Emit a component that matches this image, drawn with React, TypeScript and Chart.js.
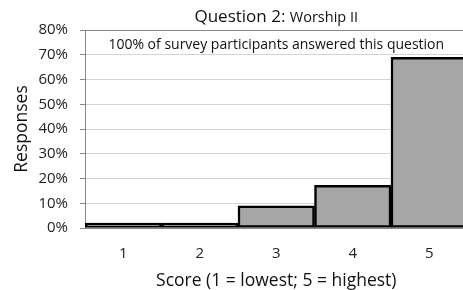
import React, { useEffect, useRef } from "react";
import { Chart, registerables } from "chart.js";

Chart.register(...registerables);

const categories = ["1", "2", "3", "4", "5"];
const responses = [2, 2, 9, 17.2, 69];
const yTicks = [0, 10, 20, 30, 40, 50, 60, 70, 80];
const titleMain = "Question 2: ";
const titleSub = "Worship II";
const note = "100% of survey participants answered this question";
const xTitle = "Score (1 = lowest; 5 = highest)";
const yTitle = "Responses";

const FONT = "'Open Sans', sans-serif";

const overlay = {
  id: "overlay",
  afterDraw(chart: any) {
    const ctx = chart.ctx;
    const area = chart.chartArea;
    ctx.save();
    ctx.fillStyle = "#111";
    ctx.textBaseline = "middle";
    ctx.font = `17px ${FONT}`;
    const w1 = ctx.measureText(titleMain).width;
    ctx.font = `14.5px ${FONT}`;
    const w2 = ctx.measureText(titleSub).width;
    const cx = (area.left + area.right) / 2;
    const x = cx - (w1 + w2) / 2;
    ctx.textAlign = "left";
    ctx.font = `17px ${FONT}`;
    ctx.fillText(titleMain, x, 17.5);
    ctx.font = `14.5px ${FONT}`;
    ctx.fillText(titleSub, x + w1, 18);
    ctx.font = `14px ${FONT}`;
    ctx.textAlign = "center";
    ctx.fillText(note, cx, 45);
    ctx.restore();
  },
};

export default function App() {
  const ref = useRef<HTMLCanvasElement>(null);
  useEffect(() => {
    const chart = new Chart(ref.current!, {
      type: "bar",
      data: {
        labels: categories,
        datasets: [
          {
            data: responses,
            backgroundColor: "#a6a6a6",
            borderColor: "#000",
            borderWidth: 2.5,
            borderSkipped: false,
            barPercentage: 1,
            categoryPercentage: 1,
          },
        ],
      },
      options: {
        responsive: false,
        animation: false,
        layout: { padding: { top: 30, right: 2.5, left: 11.5, bottom: 0 } },
        plugins: { legend: { display: false }, tooltip: { enabled: false }, title: { display: false } },
        scales: {
          x: {
            grid: { display: false },
            border: { color: "#888", width: 1 },
            ticks: { font: { family: FONT, size: 15 }, color: "#222", padding: 9 },
            title: { display: true, text: xTitle, font: { family: FONT, size: 17.5 }, color: "#111", padding: { top: 0, bottom: -1.5 } },
            afterFit(s: any) { s.height = 62; },
          },
          y: {
            min: 0,
            max: 80,
            afterBuildTicks(s: any) { s.ticks = yTicks.map((v) => ({ value: v })); },
            grid: {
              color: (c: any) => (c.tick && c.tick.value === 80 ? "#888" : "#d4d4d4"),
              lineWidth: 1,
              tickLength: 5,
              tickColor: "#888",
            },
            border: { color: "#888", width: 1 },
            ticks: { font: { family: FONT, size: 15 }, color: "#222", padding: 12, callback: (v: any) => v + "%" },
            title: { display: true, text: yTitle, font: { family: FONT, size: 17.5 }, color: "#111", padding: { top: 0, bottom: 0 } },
            afterFit(s: any) { s.width = 73.5; },
          },
        },
      },
      plugins: [overlay],
    });
    return () => chart.destroy();
  }, []);
  return (
    <div style={{ position: "fixed", left: 0, top: 0, width: 463, height: 290, overflow: "hidden", background: "#fff" }}>
      <canvas ref={ref} width={470} height={290} style={{ display: "block" }} />
    </div>
  );
}
